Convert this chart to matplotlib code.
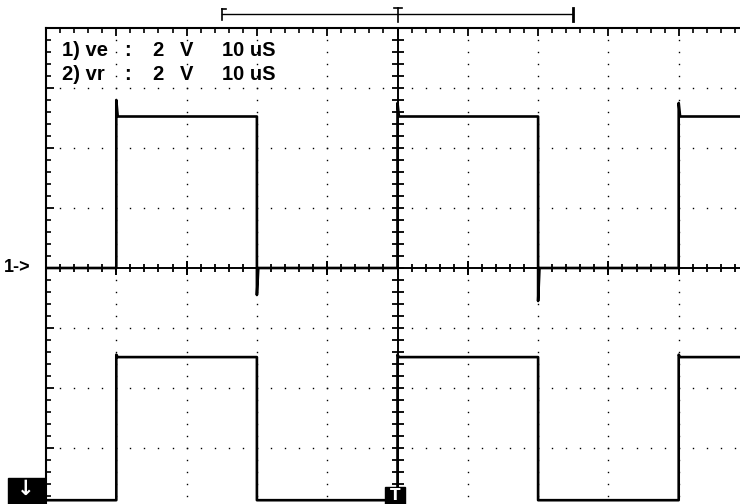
import matplotlib
matplotlib.use('Agg')
import matplotlib.pyplot as plt
import numpy as np
from matplotlib.lines import Line2D
from matplotlib.patches import Rectangle

# channel 1 (ve): time [us], voltage [V]
ve_t = [-50, -40, -40, -39.8, -20, -20, -19.8, 0, 0, 0.2, 20, 20, 20.2, 40, 40, 40.2, 50]
ve_v = [0, 0, 5.6, 5.05, 5.05, -0.9, 0, 0, 5.5, 5.05, 5.05, -1.1, 0, 0, 5.5, 5.05, 5.05]
# channel 2 (vr)
vr_t = [-50, -40, -40, -39.8, -20, -20, 0, 0, 0.2, 20, 20, 40, 40, 40.2, 50]
vr_v = [0, 0, 4.85, 4.77, 4.77, 0, 0, 4.85, 4.77, 4.77, 0, 0, 4.85, 4.77, 4.77]
ve_offset = 0.0
vr_offset = -7.74

# readout text pieces per channel
readout = [['1) ve', ':', '2', 'V', '10 uS'],
           ['2) vr', ':', '2', 'V', '10 uS']]
readout_x = [62, 124, 152, 180, 222]

W, H = 740, 504
fig = plt.figure(figsize=(W/100, H/100), dpi=100)
fx = lambda px: px/W
fy = lambda py: 1 - py/H

ax = fig.add_axes([fx(46), fy(508), (749-46)/W, 480/H])
ax.set_xlim(-50, 50)
ax.set_ylim(-8, 8)

# dotted graticule
for xd in np.arange(-40, 50, 10):
    if xd == 0:
        continue
    ys = np.arange(-8, 8.01, 0.4)
    ax.plot([xd]*len(ys), ys, ls='none', marker='s', ms=1.0, mew=0, color='k')
for yd in np.arange(-6, 8, 2):
    if yd == 0:
        continue
    xs = np.arange(-50, 50.01, 2)
    ax.plot(xs, [yd]*len(xs), ls='none', marker='s', ms=1.0, mew=0, color='k')

# centre axes with ticks
ax.axhline(0, color='k', lw=1.4)
ax.axvline(0, color='k', lw=1.4)
xt = np.arange(-50, 50.01, 2)
ax.plot(xt, np.zeros_like(xt), ls='none', marker='|', ms=6, mew=1.3, color='k')
xT = np.arange(-50, 50.01, 10)
ax.plot(xT, np.zeros_like(xT), ls='none', marker='|', ms=10, mew=1.4, color='k')
yt = np.arange(-8, 8.01, 0.4)
ax.plot(np.zeros_like(yt), yt, ls='none', marker='_', ms=8, mew=1.3, color='k')

# traces
ax.plot(ve_t, np.array(ve_v) + ve_offset, color='k', lw=1.9)
ax.plot(vr_t, np.array(vr_v) + vr_offset, color='k', lw=1.9)

# frame ticks
for s in ['right', 'bottom']:
    ax.spines[s].set_visible(False)
for s in ['top', 'left']:
    ax.spines[s].set_linewidth(1.5)
ax.xaxis.tick_top()
ax.set_xticks(np.arange(-50, 50.01, 10))
ax.set_xticks(np.arange(-50, 50.01, 2), minor=True)
ax.set_yticks(np.arange(-8, 8.01, 2))
ax.set_yticks(np.arange(-8, 8.01, 0.4), minor=True)
ax.tick_params(which='major', direction='in', length=6, width=1.3, labeltop=False, labelleft=False)
ax.tick_params(which='minor', direction='in', length=3.5, width=1.2)

for i, parts in enumerate(readout):
    for x, p in zip(readout_x, parts):
        fig.text(fx(x), fy(50 + 25*i), p, fontsize=14.5, family='Liberation Sans',
                 fontweight='bold', va='center', ha='left')

fig.text(fx(4), fy(268), '1->', fontsize=13, fontweight='bold', family='Liberation Sans',
         va='center', ha='left')

# trigger / record markers
fig.add_artist(Line2D([fx(222), fx(573)], [fy(14), fy(14)], color='k', lw=1))
fig.add_artist(Line2D([fx(222), fx(222)], [fy(9), fy(20)], color='k', lw=1.2))
fig.add_artist(Line2D([fx(222), fx(226)], [fy(9), fy(9)], color='k', lw=1.2))
fig.add_artist(Line2D([fx(573), fx(573)], [fy(8), fy(21)], color='k', lw=2))
fig.add_artist(Line2D([fx(398), fx(398)], [fy(8), fy(22)], color='k', lw=1.2))
fig.add_artist(Line2D([fx(394), fx(402)], [fy(8), fy(8)], color='k', lw=1.2))

fig.add_artist(Rectangle((fx(8), fy(504)), (45-8)/W, 26/H, color='k'))
fig.text(fx(26), fy(489), '\u2193', color='white', fontsize=15, fontweight='bold',
         ha='center', va='center')
fig.add_artist(Rectangle((fx(385), fy(504)), 20/W, 17/H, color='k'))
fig.text(fx(395), fy(495), 'T', color='white', fontsize=11, fontweight='bold',
         ha='center', va='center')

fig.savefig('out.png', dpi=100)
